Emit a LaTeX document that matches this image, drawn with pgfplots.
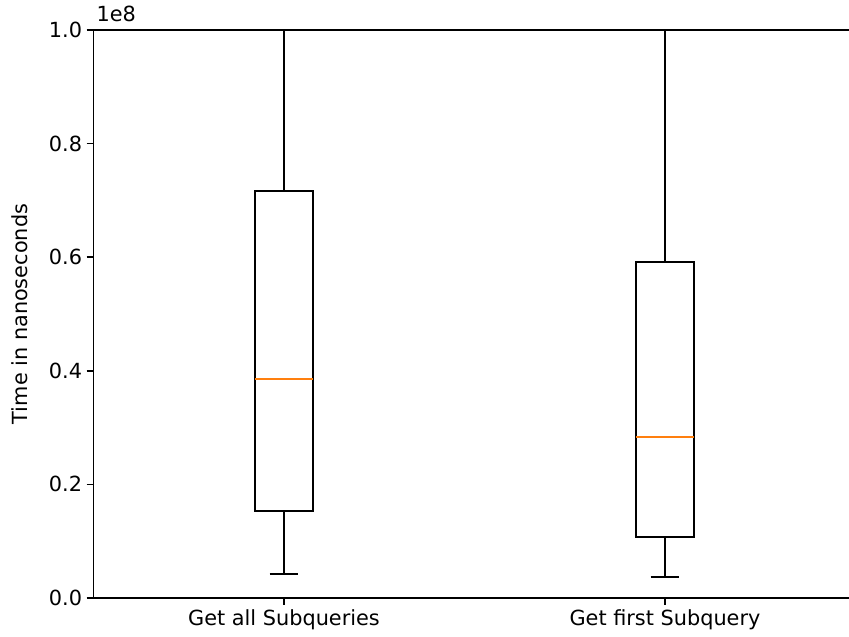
\documentclass[border=0pt]{standalone}
\usepackage{fontspec}
\setmainfont{DejaVu Sans}
\usepackage{pgfplots}
\pgfplotsset{compat=1.18}
\usepgfplotslibrary{statistics}
\definecolor{mplorange}{HTML}{FF7F0E}
\begin{document}
\begin{tikzpicture}
\begin{axis}[
  width=548.64pt, height=408.96pt, scale only axis,
  xmin=0.5, xmax=2.5, ymin=0, ymax=1,
  xtick={1,2}, xticklabels={Get all Subqueries, Get first Subquery},
  ytick={0,0.2,0.4,0.6,0.8,1.0}, yticklabels={0.0,0.2,0.4,0.6,0.8,1.0},
  tick align=outside, xtick pos=bottom, ytick pos=left,
  major tick length=5pt,
  tick style={black, line width=1.1pt},
  axis line style={line width=1.1pt},
  /pgf/number format/assume math mode=true,
  ticklabel style={font=\fontsize{15}{18}\selectfont},
  yticklabel style={inner sep=2pt, xshift=-1pt},
  xticklabel style={inner sep=2pt, yshift=-1.5pt},
  every axis y label/.style={at={(axis description cs:-0.0964,0.5)}, rotate=90, anchor=center, font=\fontsize{15}{18}\selectfont},
  ylabel={Time in nanoseconds},
  boxplot/draw direction=y,
  boxplot/box extend=0.15,
  boxplot/whisker extend=0.075,
  boxplot/every median/.style={draw=mplorange, line width=1.4pt},
]
\addplot+[boxplot prepared={draw direction=y, lower whisker=0.0423, lower quartile=0.1532, median=0.3856, upper quartile=0.7165, upper whisker=1.3, draw position=1}, black, solid, line width=1.4pt, mark=none] coordinates {};
\addplot+[boxplot prepared={draw direction=y, lower whisker=0.0370, lower quartile=0.1074, median=0.2835, upper quartile=0.5915, upper whisker=1.3, draw position=2}, black, solid, line width=1.4pt, mark=none] coordinates {};
\end{axis}
\node[anchor=base west, inner sep=0pt, font=\fontsize{15}{18}\selectfont] at ([xshift=2pt, yshift=6.3pt]current axis.north west) {1e8};
\pgfresetboundingbox
\path[use as bounding box] ([xshift=-67.3pt, yshift=-27.4pt]current axis.south west) rectangle ([xshift=-4.68pt, yshift=21.6pt]current axis.north east);
\end{tikzpicture}
\end{document}
